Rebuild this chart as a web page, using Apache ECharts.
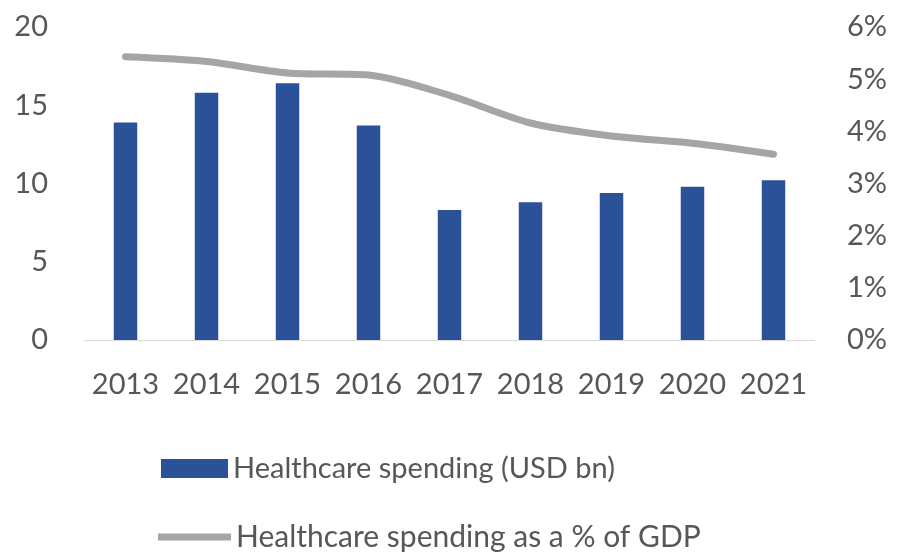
<!DOCTYPE html>
<html>
<head>
<meta charset="utf-8">
<style>
  html, body { margin: 0; padding: 0; background: #ffffff; }
  #chart { width: 897px; height: 554px; }
</style>
<script src="https://cdn.jsdelivr.net/npm/echarts@6/dist/echarts.min.js"></script>
</head>
<body>
<div id="chart"></div>
<script>
// Years on the category axis
const years = ['2013', '2014', '2015', '2016', '2017', '2018', '2019', '2020', '2021'];
// Healthcare spending, USD bn (left axis)
const spendingUsdBn = [13.9, 15.8, 16.4, 13.7, 8.3, 8.8, 9.4, 9.8, 10.2];
// Healthcare spending as a share of GDP, % (right axis)
const spendingPctGdp = [5.43, 5.34, 5.12, 5.08, 4.69, 4.16, 3.91, 3.77, 3.56];

const barName = 'Healthcare spending (USD bn)';
const lineName = 'Healthcare spending as a % of GDP';

const FONT = 'Lato';
const TEXT = '#575757';
const BAR = '#2b5198';
const LINE = '#a5a5a5';

const chart = echarts.init(document.getElementById('chart'), null, { renderer: 'canvas' });

chart.setOption({
  backgroundColor: '#ffffff',
  animation: false,
  grid: { left: 85, right: 83, top: 27, bottom: 214 },
  legend: [
    {
      data: [barName],
      left: 156, top: 449,
      icon: 'rect',
      itemWidth: 67, itemHeight: 19,
      textStyle: { fontFamily: FONT, fontSize: 29, color: TEXT }
    },
    {
      data: [{ name: lineName, icon: 'rect', itemStyle: { color: LINE } }],
      left: 153, top: 517,
      itemWidth: 73, itemHeight: 7,
      textStyle: { fontFamily: FONT, fontSize: 30, color: TEXT }
    }
  ],
  xAxis: {
    type: 'category',
    data: years,
    axisLine: { lineStyle: { color: '#d9d9d9', width: 1 } },
    axisTick: { show: false },
    axisLabel: { interval: 0, margin: 30, fontFamily: FONT, fontSize: 29, color: TEXT }
  },
  yAxis: [
    {
      type: 'value',
      min: 0, max: 20, interval: 5,
      splitLine: { show: false },
      axisLine: { show: false },
      axisTick: { show: false },
      axisLabel: { margin: 37, fontFamily: FONT, fontSize: 29, color: TEXT }
    },
    {
      type: 'value',
      min: 0, max: 6, interval: 1,
      position: 'right',
      splitLine: { show: false },
      axisLine: { show: false },
      axisTick: { show: false },
      axisLabel: {
        margin: 33, fontFamily: FONT, fontSize: 29, color: TEXT,
        formatter: v => v + '%'
      }
    }
  ],
  series: [
    {
      name: barName,
      type: 'bar',
      yAxisIndex: 0,
      data: spendingUsdBn,
      barWidth: '29%',
      itemStyle: { color: BAR }
    },
    {
      name: lineName,
      type: 'line',
      yAxisIndex: 1,
      data: spendingPctGdp,
      smooth: 0.3,
      showSymbol: false,
      lineStyle: { color: LINE, width: 7, cap: 'round' },
      itemStyle: { color: LINE }
    }
  ]
});
</script>
</body>
</html>
